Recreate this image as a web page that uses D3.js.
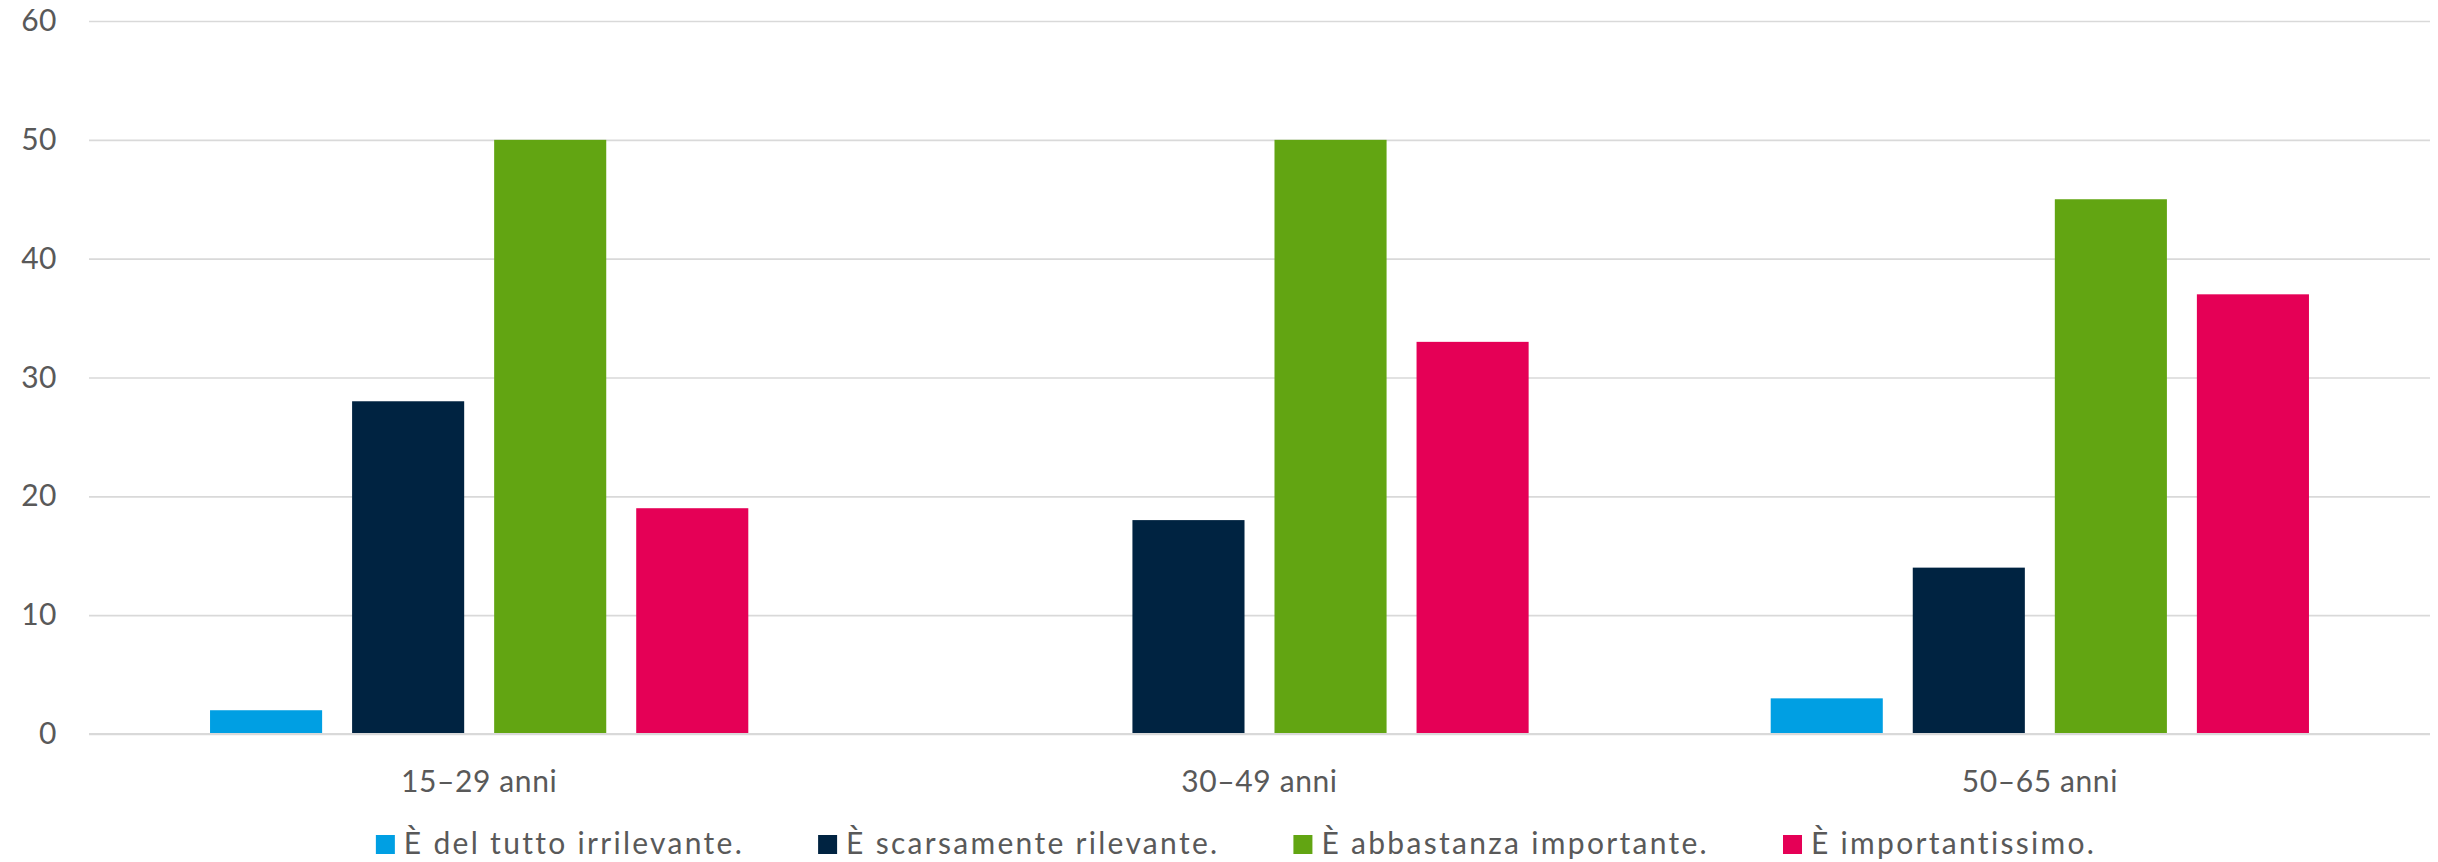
<!DOCTYPE html>
<html>
<head>
<meta charset="utf-8">
<script src="https://cdn.jsdelivr.net/npm/d3@7"></script>
<style>
  html, body { margin: 0; padding: 0; background: #ffffff; }
  svg { display: block; }
  text { font-family: Lato, "Open Sans", sans-serif; fill: #595959; }
</style>
</head>
<body>
<svg id="chart" width="2438" height="862"></svg>
<script>
const categories = ["15–29 anni", "30–49 anni", "50–65 anni"];
const seriesNames = ["È del tutto irrilevante.", "È scarsamente rilevante.", "È abbastanza importante.", "È importantissimo."];
const seriesColors = ["#009FE3", "#002341", "#62A512", "#E50056"];
const irrilevante = [2, 0, 3];
const scarsamente = [28, 18, 14];
const abbastanza = [50, 50, 45];
const importantissimo = [19, 33, 37];
const yTicks = [0, 10, 20, 30, 40, 50, 60];

const values = [irrilevante, scarsamente, abbastanza, importantissimo];

const W = 2438, H = 862;
const margin = { left: 89, right: 8, top: 21, bottom: 128 };
const svg = d3.select("#chart");
const fontSize = 30;

const x0 = d3.scaleBand().domain(categories).range([margin.left, W - margin.right]).padding(0);
const x1 = d3.scaleBand().domain(seriesNames).range([0, x0.bandwidth()]).paddingInner(0.211).paddingOuter(0.852);
const y = d3.scaleLinear().domain([0, 60]).range([H - margin.bottom, margin.top]);

// grid lines
const grid = svg.append("g")
  .attr("transform", `translate(${margin.left},0)`)
  .call(d3.axisLeft(y).tickValues(yTicks).tickSize(-(W - margin.right - margin.left)).tickFormat(""));
grid.select(".domain").remove();
grid.selectAll(".tick line").attr("stroke", "#d9d9d9").attr("stroke-width", 1.6);

// y labels
const yAxis = svg.append("g")
  .attr("transform", `translate(57,0)`)
  .call(d3.axisLeft(y).tickValues(yTicks).tickSize(0).tickPadding(0).tickFormat(d3.format("d")));
yAxis.select(".domain").remove();
yAxis.selectAll("text").style("font-size", fontSize + "px").attr("fill", "#595959")
  .style("font-family", "Lato, sans-serif").style("letter-spacing", "0.5px");

// bars
const groups = svg.append("g").selectAll("g")
  .data(categories)
  .join("g")
  .attr("transform", d => `translate(${x0(d)},0)`);

groups.selectAll("rect")
  .data((d, i) => seriesNames.map((s, j) => ({ s, v: values[j][i], c: seriesColors[j] })))
  .join("rect")
  .attr("x", d => x1(d.s))
  .attr("width", x1.bandwidth())
  .attr("y", d => y(d.v))
  .attr("height", d => y(0) - y(d.v))
  .attr("fill", d => d.c);

// zero line on top
svg.append("line")
  .attr("x1", margin.left).attr("x2", W - margin.right)
  .attr("y1", y(0)).attr("y2", y(0))
  .attr("stroke", "#d9d9d9").attr("stroke-width", 2);

// x labels
const xAxis = svg.append("g")
  .attr("transform", `translate(0,${y(0)})`)
  .call(d3.axisBottom(x0).tickSize(0).tickPadding(0));
xAxis.select(".domain").remove();
xAxis.selectAll("text")
  .attr("y", 0).attr("dy", 0)
  .attr("transform", "translate(0,58)")
  .style("font-size", fontSize + "px").attr("fill", "#595959")
  .style("font-family", "Lato, sans-serif").style("letter-spacing", "0.6px");

// legend
const legend = svg.append("g");
const items = legend.selectAll("g").data(seriesNames).join("g");
items.append("rect").attr("width", 19).attr("height", 19).attr("y", -19)
  .attr("fill", (d, i) => seriesColors[i]);
items.append("text").attr("x", 28).attr("y", 0)
  .style("font-size", fontSize + "px").style("letter-spacing", "2.3px").text(d => d);
const gap = 74;
let widths = [];
items.each(function () {
  const t = d3.select(this).select("text").node();
  widths.push(28 + t.getComputedTextLength());
});
const total = d3.sum(widths) + gap * (widths.length - 1);
let cx = 1236 - total / 2;
items.attr("transform", (d, i) => {
  const pos = cx;
  cx += widths[i] + gap;
  return `translate(${pos},854)`;
});
</script>
</body>
</html>
